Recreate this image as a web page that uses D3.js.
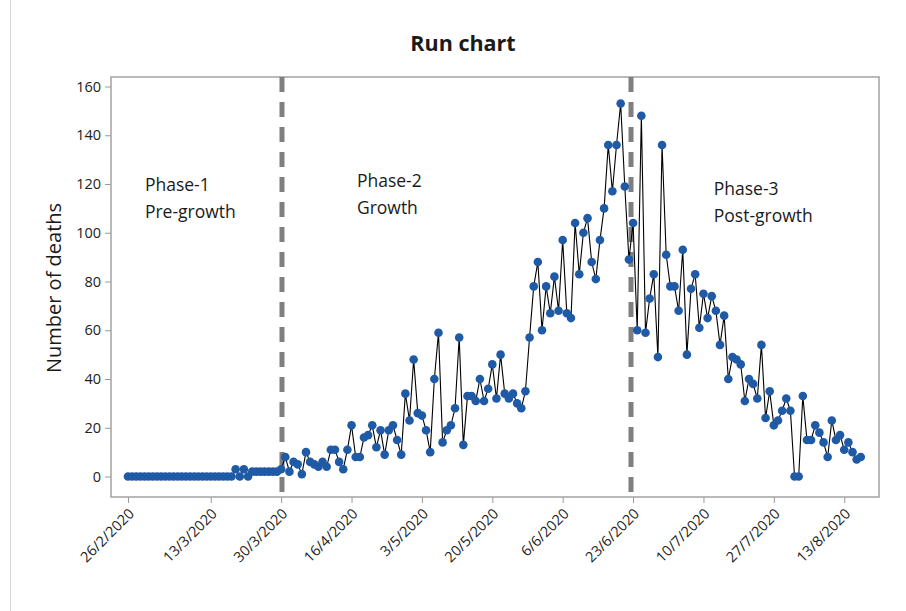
<!DOCTYPE html>
<html>
<head>
<meta charset="utf-8">
<script src="https://cdn.jsdelivr.net/npm/d3@7"></script>
<style>
  body { margin: 0; background: #fff; }
  svg { display: block; font-family: "Open Sans", "Noto Sans", sans-serif; }
</style>
</head>
<body>
<svg id="chart" width="906" height="611"></svg>
<script>
// Daily number of deaths, one value per observation (run order)
const deaths = [
  0,0,0,0,0,0,0,0,0,0,0,0,0,0,0,0,0,0,0,0,0,0,0,0,0,0,
  3,0,3,0,2,2,2,2,2,2,2,3,
  8,2,6,5,1,10,6,5,4,6,4,11,11,6,3,11,21,8,8,16,
  17,21,12,19,9,19,21,15,9,34,23,48,26,25,19,10,40,59,14,19,
  21,28,57,13,33,33,31,40,31,36,46,32,50,34,32,34,30,28,35,57,
  78,88,60,78,67,82,68,97,67,65,104,83,100,106,88,81,97,
  110,136,117,136,153,119,89,104,60,148,
  59,73,83,49,136,91,78,78,68,93,
  50,77,83,61,75,65,74,68,54,66,
  40,49,48,46,31,40,38,32,54,24,
  35,21,23,27,32,27,0,0,33,15,
  15,21,18,14,8,23,15,17,11,14,
  10,7,8
];

// Date labels on the x axis and the observation they sit on
const tickIndex = [0, 20, 37, 54, 71, 88, 105, 122, 139, 156, 173];
const tickLabels = ["26/2/2020", "13/3/2020", "30/3/2020", "16/4/2020", "3/5/2020",
  "20/5/2020", "6/6/2020", "23/6/2020", "10/7/2020", "27/7/2020", "13/8/2020"];

const yTicks = [0, 20, 40, 60, 80, 100, 120, 140, 160];

// Boundaries between phases (observation position)
const phaseBreaks = [37.2, 121.5];

// Phase annotations: name, stage, anchor (observation, deaths)
const phaseNames = ["Phase-1", "Phase-2", "Phase-3"];
const phaseStages = ["Pre-growth", "Growth", "Post-growth"];
const phaseAnchorObs = [4.1, 55.3, 141.5];
const phaseAnchorVal = [117.0, 118.7, 115.4];

const svg = d3.select("#chart");

// Outer graph border (left edge)
svg.append("line")
  .attr("x1", 10.5).attr("x2", 10.5).attr("y1", 0).attr("y2", 611)
  .attr("stroke", "#d6d6d6").attr("stroke-width", 1);

const frame = { left: 111, right: 879, top: 77, bottom: 497 };

const x = d3.scaleLinear().domain([-4.1, 181.4]).range([frame.left, frame.right]);
const y = d3.scaleLinear().domain([-8.4, 163.9]).range([frame.bottom, frame.top]);

// Title
svg.append("text")
  .attr("x", 463).attr("y", 51)
  .attr("text-anchor", "middle")
  .attr("font-size", 21.5).attr("font-weight", "bold")
  .attr("fill", "#1a1a1a")
  .text("Run chart");

// Y axis label
svg.append("text")
  .attr("transform", "translate(61,288) rotate(-90)")
  .attr("text-anchor", "middle")
  .attr("font-size", 20)
  .attr("fill", "#1a1a1a")
  .text("Number of deaths");

// Axes
const yAxis = svg.append("g")
  .attr("transform", `translate(${frame.left},0)`)
  .call(d3.axisLeft(y).tickValues(yTicks).tickSize(6).tickPadding(4));
yAxis.select(".domain").remove();
yAxis.selectAll("line").attr("stroke", "#999");
yAxis.selectAll("text").attr("font-size", 14.5).attr("fill", "#222")
  .attr("font-family", "'Open Sans', sans-serif");

const xAxis = svg.append("g")
  .attr("transform", `translate(0,${frame.bottom})`)
  .call(d3.axisBottom(x).tickValues(tickIndex)
    .tickFormat((d, i) => tickLabels[i]).tickSize(6));
xAxis.select(".domain").remove();
xAxis.selectAll("line").attr("stroke", "#999");
xAxis.selectAll("text")
  .attr("font-size", 14.5).attr("fill", "#222")
  .attr("font-family", "'Open Sans', sans-serif")
  .attr("text-anchor", "end")
  .attr("transform", "translate(3,14) rotate(-45)")
  .attr("dy", "0.35em")
  .attr("y", 0);

// Plot frame
svg.append("rect")
  .attr("x", frame.left).attr("y", frame.top)
  .attr("width", frame.right - frame.left)
  .attr("height", frame.bottom - frame.top)
  .attr("fill", "none").attr("stroke", "#a3a3a3").attr("stroke-width", 1.5);

// Phase boundaries
svg.append("g").selectAll("line")
  .data(phaseBreaks)
  .join("line")
  .attr("x1", d => x(d)).attr("x2", d => x(d))
  .attr("y1", frame.top).attr("y2", frame.bottom)
  .attr("stroke", "#7f7f7f").attr("stroke-width", 5)
  .attr("stroke-dasharray", "15,10");

// Run line and points
const line = d3.line().x((d, i) => x(i)).y(d => y(d));
svg.append("path")
  .datum(deaths)
  .attr("d", line)
  .attr("fill", "none").attr("stroke", "#000").attr("stroke-width", 1.1);

svg.append("g").selectAll("circle")
  .data(deaths)
  .join("circle")
  .attr("cx", (d, i) => x(i)).attr("cy", d => y(d))
  .attr("r", 4.3)
  .attr("fill", "#1f5aa6");

// Phase annotations
const ann = svg.append("g").attr("font-size", 17.5).attr("fill", "#1a1a1a");
phaseNames.forEach((name, i) => {
  const t = ann.append("text")
    .attr("x", x(phaseAnchorObs[i]))
    .attr("y", y(phaseAnchorVal[i]));
  t.append("tspan").attr("x", x(phaseAnchorObs[i])).text(name);
  t.append("tspan").attr("x", x(phaseAnchorObs[i])).attr("dy", 27).text(phaseStages[i]);
});
</script>
</body>
</html>
